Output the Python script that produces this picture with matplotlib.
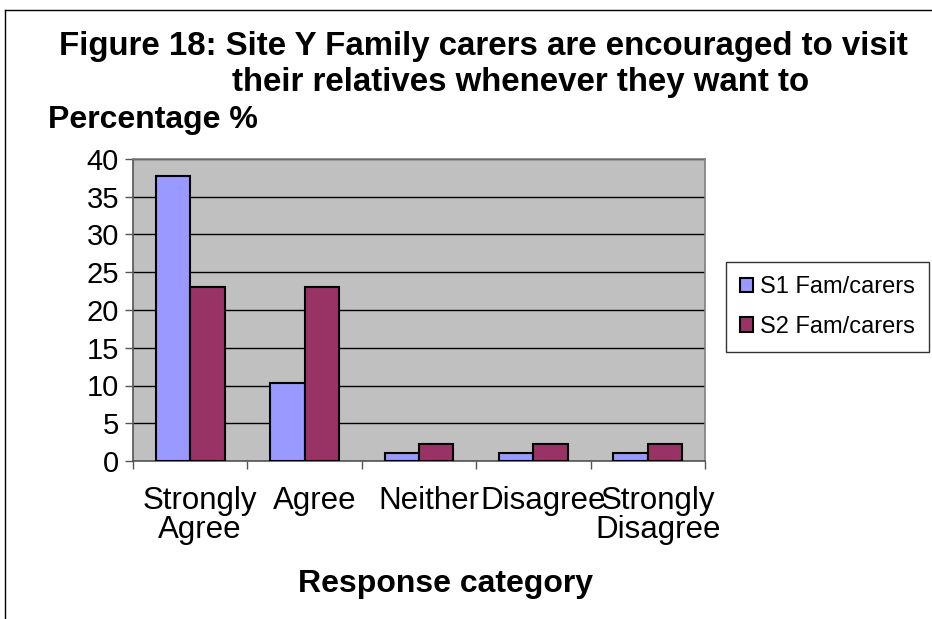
import numpy as np
import matplotlib.pyplot as plt
import matplotlib.transforms as mtransforms
from matplotlib.lines import Line2D

plt.rcParams['font.family'] = ['Liberation Sans', 'DejaVu Sans']

categories = ['Strongly\nAgree', 'Agree', 'Neither', 'Disagree', 'Strongly\nDisagree']
s1_fam = [37.7, 10.3, 1.1, 1.1, 1.1]
s2_fam = [23.1, 23.1, 2.2, 2.2, 2.2]
series_names = ['S1 Fam/carers', 'S2 Fam/carers']
colors = ['#9999FF', '#993366']

fig = plt.figure(figsize=(9.32, 6.19), dpi=100)
ax = fig.add_axes([133 / 932, 1 - 461 / 619, 572 / 932, 302 / 619])
ax.set_facecolor('#C0C0C0')

x = np.arange(len(categories))
w = 0.3
ax.bar(x - w / 2, s1_fam, w, color=colors[0], edgecolor='black', linewidth=1.5,
       label=series_names[0], zorder=3)
ax.bar(x + w / 2, s2_fam, w, color=colors[1], edgecolor='black', linewidth=1.5,
       label=series_names[1], zorder=3)

ax.set_xlim(-0.5, len(categories) - 0.5)
ax.set_ylim(0, 40)
ax.set_yticks(np.arange(0, 41, 5))
ax.yaxis.grid(True, color='black', linewidth=1, zorder=1)
ax.set_axisbelow(True)

# category labels centred, tick marks between categories
ax.set_xticks(np.arange(-0.5, len(categories), 1.0))
ax.set_xticklabels([])
ax.set_xticks(x, minor=True)
ax.set_xticklabels(categories, minor=True, fontsize=22.5, linespacing=0.95)
ax.tick_params(axis='x', which='minor', length=0, pad=18)
ax.tick_params(axis='x', which='major', length=6, color='#555555', width=1)
ax.tick_params(axis='y', labelsize=21, length=6, color='#555555', width=1, pad=4)

# labels sit a little right of the category centre
shift = mtransforms.ScaledTranslation(10 / 100, 0, fig.dpi_scale_trans)
for lbl in ax.get_xticklabels(minor=True):
    lbl.set_transform(lbl.get_transform() + shift)

for side in ['left', 'bottom']:
    ax.spines[side].set_color('#555555')
    ax.spines[side].set_linewidth(1.2)
for side in ['top', 'right']:
    ax.spines[side].set_color('#808080')
    ax.spines[side].set_linewidth(1.2)

fig.text(483 / 932, 1 - 46 / 619, 'Figure 18: Site Y Family carers are encouraged to visit',
         ha='center', va='center', fontsize=23.8, fontweight='bold')
fig.text(521 / 932, 1 - 82 / 619, 'their relatives whenever they want to',
         ha='center', va='center', fontsize=23.8, fontweight='bold')
fig.text(48 / 932, 1 - 120 / 619, 'Percentage %', ha='left', va='center',
         fontsize=23, fontweight='bold')
fig.text(446 / 932, 1 - 584 / 619, 'Response category', ha='center', va='center',
         fontsize=23, fontweight='bold')

leg = fig.legend(loc='upper left', bbox_to_anchor=(726 / 932, 1 - 262 / 619),
                 fontsize=17, frameon=True, fancybox=False, edgecolor='black',
                 handlelength=0.55, handleheight=0.55, handletextpad=0.3,
                 borderpad=0.6, labelspacing=0.75, borderaxespad=0)
leg.get_frame().set_linewidth(1)

# chart area border
fig.add_artist(Line2D([5 / 932, 5 / 932], [0, 1 - 10 / 619], color='black', linewidth=1,
                      transform=fig.transFigure))
fig.add_artist(Line2D([5 / 932, 1], [1 - 10 / 619, 1 - 10 / 619], color='black', linewidth=1,
                      transform=fig.transFigure))

fig.savefig('out.png', dpi=100)
